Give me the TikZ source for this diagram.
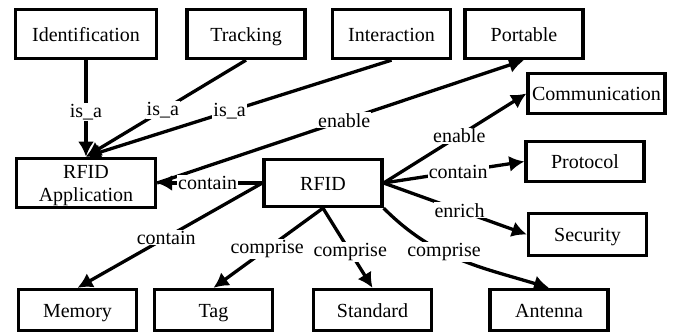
\documentclass[tikz,border=0pt]{standalone}
\usepackage{fontspec}
\setmainfont{Liberation Serif}
\usetikzlibrary{positioning,arrows.meta}
\tikzset{
block/.style={
draw,
line width=3.3pt,
minimum width=118pt,minimum height=41pt,inner sep=4pt,
text height=17pt,text depth=3pt,align=center},
line/.style={line width=3.3pt,-{Latex[length=15pt,width=16pt]}},
lbl/.style={fill=white,inner sep=1pt},
font={\fontsize{20pt}{23pt}\selectfont}
}

\begin{document}
\begin{tikzpicture}[x=1pt,y=-1pt]
  \useasboundingbox (0,0) rectangle (677,333);
  % top row
  \node[block, minimum width=141pt, minimum height=49pt] (ident) at (86,34) {Identification};
  \node[block, minimum height=49pt] (track) at (246,34) {Tracking};
  \node[block, minimum height=49pt] (inter) at (391.5,34) {Interaction};
  \node[block, minimum height=49pt] (port) at (524,34) {Portable};
  % middle
  \node[block, minimum width=139pt, minimum height=47pt, text height=39pt, text depth=2.5pt] (app) at (86,183) {RFID\\Application};
  \node[block, minimum height=47pt] (rfid) at (323,183) {RFID};
  \node[block, minimum height=40pt] (comm) at (596.5,93.5) {Communication};
  \node[block, minimum height=40pt] (proto) at (585,161.5) {Protocol};
  \node[block, minimum height=42pt] (secu) at (587.5,234.5) {Security};
  % bottom row
  \node[block] (mem) at (77.5,310) {Memory};
  \node[block] (tag) at (213.5,310) {Tag};
  \node[block] (std) at (372.5,310) {Standard};
  \node[block] (ant) at (549,310) {Antenna};
  \draw[line] (ident.south) -- node[lbl,pos=0.54]{is\_a} (app.north);
  \draw[line] (track.south) -- node[lbl,pos=0.52]{is\_a} (app.north);
  \draw[line] (inter.south) -- node[lbl,pos=0.53]{is\_a} (app.north);
  \draw[line] (app.east) -- node[lbl,pos=0.51]{enable} (port.south);
  \draw[line] (rfid.west) -- node[lbl,pos=0.52]{contain} (app.east);
  \draw[line] (rfid.west) -- node[lbl,pos=0.52]{contain} (mem.north);
  \draw[line] (rfid.south) -- node[lbl,pos=0.51]{comprise} (tag.north);
  \draw[line] (rfid.south) -- node[lbl,pos=0.55]{comprise} (std.north);
  \draw[line] (rfid.south east) .. controls +(51,51) and +(-69,-21) .. node[lbl,pos=0.4]{comprise} (ant.north);
  \draw[line] (rfid.east) -- node[lbl,pos=0.53]{enable} (comm.west);
  \draw[line] (rfid.east) -- node[lbl,pos=0.53]{contain} (proto.west);
  \draw[line] (rfid.east) -- node[lbl,pos=0.53]{enrich} (secu.west);
\end{tikzpicture}
\end{document}
